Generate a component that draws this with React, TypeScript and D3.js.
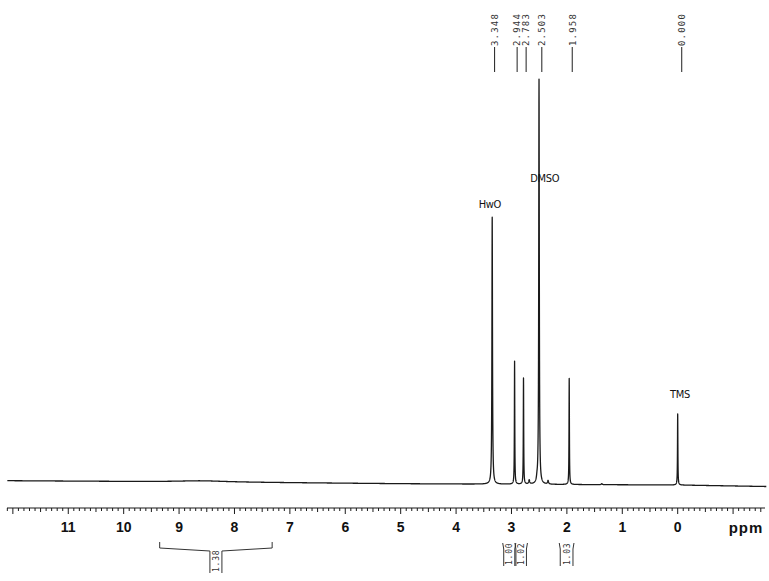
import React from 'react';
import * as d3 from 'd3';

// ---- data ----
const peakShifts = [3.348, 2.944, 2.783, 2.503, 1.958, 0.0, 2.68, 2.34, 2.54, 1.37, 8.6];
const peakHeights = [267, 123, 106, 405, 106, 71, 4, 3.5, 3, 1, 1.2];
const peakWidths = [0.006, 0.004, 0.004, 0.006, 0.004, 0.004, 0.01, 0.01, 0.01, 0.01, 0.5];

const labeledShifts = [3.348, 2.944, 2.783, 2.503, 1.958, 0.0];
const tickLabels = [11, 10, 9, 8, 7, 6, 5, 4, 3, 2, 1, 0];

const baselinePpm = [12.11, 8, 5, 3, 0, -1.58];
const baselineLevel = [3.3, 1.8, 0.3, -0.3, -1, -2.5];

const integralFrom = [9.35, 3.14, 2.92, 2.12];
const integralTo = [7.32, 2.94, 2.73, 1.89];
const integralValues = ['1.38', '1.00', '1.02', '1.03'];

const noteTexts = ['HwO', 'DMSO', 'TMS'];
const notePpm = [3.39, 2.4, -0.04];
const noteLevel = [276, 302, 86];

// ---- layout ----
const W = 769;
const H = 581;
const X0 = 7;
const X1 = 765;
const AXIS_Y = 508;
const ZERO_Y = 484;

export default function App() {
  const x = d3.scaleLinear().domain([12.106, -1.576]).range([X0, X1]);
  const labelX = d3.scaleLinear().domain([12.106, -1.576]).range([5, 769.8]);
  const y = d3.scaleLinear().domain([0, 405]).range([ZERO_Y, ZERO_Y - 405]);
  const base = d3.scaleLinear().domain(baselinePpm).range(baselineLevel);

  const intensity = (p: number) => {
    let v = base(p);
    for (let i = 0; i < peakShifts.length; i++) {
      const g = peakWidths[i];
      const d = p - peakShifts[i];
      v += (peakHeights[i] * g * g) / (d * d + g * g);
    }
    return v;
  };

  const samples: number[] = [];
  for (let p = 12.1; p >= -1.6; p -= 0.0015) samples.push(p);
  peakShifts.forEach((s) => samples.push(s));
  samples.sort((a, b) => b - a);

  const line = d3
    .line<number>()
    .x((p) => x(p))
    .y((p) => y(intensity(p)));
  const specPath = line(samples) || '';

  const minorTicks = d3.range(-15, 122).map((i) => i / 10);
  const ink = '#1a1a1a';

  return (
    <svg
      width={W}
      height={H}
      style={{ position: 'absolute', left: 0, top: 0, background: '#fff' }}
      fontFamily="'Liberation Sans', Arial, sans-serif"
    >
      <rect width={W} height={H} fill="#fff" />
      {/* spectrum */}
      <path d={specPath} fill="none" stroke={ink} strokeWidth={1.3} strokeLinejoin="round" />

      {/* peak labels at top */}
      {labeledShifts.map((s, i) => (
        <g key={'lab' + i}>
          <line x1={labelX(s)} x2={labelX(s)} y1={47} y2={72} stroke="#333" strokeWidth={1.1} />
          <text
            transform={`translate(${labelX(s) + 3.3},46) rotate(-90)`}
            fontFamily="'DejaVu Sans Mono', monospace"
            fontSize={9}
            letterSpacing={1.2}
            fill="#333"
          >
            {s.toFixed(3)}
          </text>
        </g>
      ))}

      {/* handwritten notes */}
      {noteTexts.map((t, i) => (
        <text
          key={'n' + i}
          x={x(notePpm[i])}
          y={y(noteLevel[i])}
          textAnchor="middle"
          fontFamily="'DejaVu Sans Condensed', 'DejaVu Sans', sans-serif"
          fontSize={11}
          fill="#111"
          letterSpacing={-0.3}
        >
          {t}
        </text>
      ))}

      {/* axis */}
      <line x1={X0} x2={X1} y1={AXIS_Y} y2={AXIS_Y} stroke={ink} strokeWidth={1.2} />
      {minorTicks.map((t) => {
        const major = Math.abs(t - Math.round(t)) < 1e-6;
        const half = Math.abs(t * 2 - Math.round(t * 2)) < 1e-6;
        const len = major ? 6 : half ? 4 : 3;
        const xx = x(t);
        if (xx < X0 - 0.5 || xx > X1 + 0.5) return null;
        return (
          <line key={'t' + t} x1={xx} x2={xx} y1={AXIS_Y} y2={AXIS_Y + len} stroke={ink} strokeWidth={1} />
        );
      })}
      {tickLabels.map((t) => (
        <text key={'tl' + t} x={x(t)} y={532} textAnchor="middle" fontWeight="bold" fontSize={14} fill="#111">
          {t}
        </text>
      ))}
      <text x={746} y={533} textAnchor="middle" fontWeight="bold" fontSize={15} letterSpacing={1} fill="#111">
        ppm
      </text>

      {/* integrals */}
      {integralFrom.map((f, i) => {
        const xl = x(f);
        const xr = x(integralTo[i]);
        const mid = (xl + xr) / 2;
        const wide = xr - xl > 16;
        let d: string;
        let bottom: number;
        if (wide) {
          bottom = 573;
          d = `M${xl},542 L${xl},548 L${mid - 6},551 L${mid - 6},${bottom} M${xr},542 L${xr},548 L${mid + 6},551 L${mid + 6},${bottom}`;
        } else {
          bottom = 566;
          d = `M${xl - 1},543 L${xl},549 L${xl},${bottom} M${xr + 1},543 L${xr},549 L${xr},${bottom}`;
        }
        return (
          <g key={'int' + i}>
            <path d={d} fill="none" stroke="#333" strokeWidth={1} />
            <text
              transform={`translate(${mid + 3},${bottom - 1}) rotate(-90)`}
              fontFamily="'DejaVu Sans Mono', monospace"
              fontSize={8}
              letterSpacing={0.8}
              fill="#333"
            >
              {integralValues[i]}
            </text>
          </g>
        );
      })}
    </svg>
  );
}
